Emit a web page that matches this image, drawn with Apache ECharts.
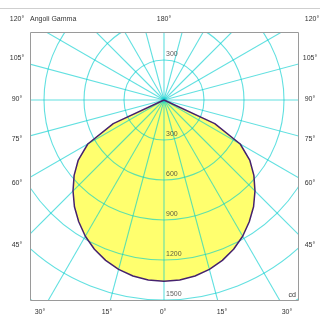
<!DOCTYPE html>
<html>
<head>
<meta charset="utf-8">
<script src="https://cdn.jsdelivr.net/npm/echarts@6/dist/echarts.min.js"></script>
<style>
html,body{margin:0;padding:0;background:#fff;}
#chart{width:320px;height:322px;}
</style>
</head>
<body>
<div id="chart"></div>
<script>
// Gamma angles (deg, from the downward vertical) and luminous intensity (cd), symmetric curve
const gammaAngles = [0, 5, 10, 15, 20, 25, 30, 35, 40, 45, 50, 55, 60, 65, 70, 75, 80, 85, 90];
const intensity   = [1360, 1355, 1340, 1315, 1280, 1235, 1180, 1115, 1045, 965, 880, 785, 660, 420, 0, 0, 0, 0, 0];

// Polar grid: rings (cd) and spokes (deg)
const ringValues = [300, 600, 900, 1200, 1500, 1800];
const spokeAngles = [-180, -165, -150, -135, -120, -105, -90, -75, -60, -45, -30, -15,
                     0, 15, 30, 45, 60, 75, 90, 105, 120, 135, 150, 165];
const gridOuter = 1800;

// Radial ring tick labels (cd)
const ringLabelsDown = [300, 600, 900, 1200, 1500];
const ringLabelsUp = [300];

// Angle tick labels around the frame
const leftLabels = ['105°', '90°', '75°', '60°', '45°'];
const rightLabels = ['105°', '90°', '75°', '60°', '45°'];
const bottomLabels = ['30°', '15°', '0°', '15°', '30°'];
const topLabels = ['120°', '180°', '120°'];
const titleText = 'Angoli Gamma';
const unitText = 'cd';

const curve = [];
for (let i = gammaAngles.length - 1; i >= 1; i--) curve.push([intensity[i], -gammaAngles[i]]);
for (let i = 0; i < gammaAngles.length; i++) curve.push([intensity[i], gammaAngles[i]]);

const ringData = ringLabelsDown.map(v => [v, 0]).concat(ringLabelsUp.map(v => [v, 180]));

const FONT = 'Liberation Sans, Arial, sans-serif';
const TXT = '#333';
const gridColor = 'rgba(0,205,205,0.62)';

function txt(x, y, s, align) {
  return { type: 'text', z: 110, x: x, y: y,
    style: { text: s, fill: TXT, font: '7px ' + FONT, align: align || 'center', verticalAlign: 'middle' } };
}

const leftY = [58, 99, 139, 183, 245];
const bottomX = [40, 107, 163, 222, 287];

const graphics = [
  { type: 'rect', z: 100, shape: { x: 0, y: 0, width: 320, height: 32 }, style: { fill: '#fff' } },
  { type: 'rect', z: 100, shape: { x: 0, y: 300.5, width: 320, height: 30 }, style: { fill: '#fff' } },
  { type: 'rect', z: 100, shape: { x: 0, y: 0, width: 30, height: 322 }, style: { fill: '#fff' } },
  { type: 'rect', z: 100, shape: { x: 298.5, y: 0, width: 30, height: 322 }, style: { fill: '#fff' } },
  { type: 'polyline', z: 105, shape: { points: [[30.5, 32.5], [298.5, 32.5], [298.5, 300.5], [30.5, 300.5], [30.5, 32.5]] }, style: { fill: null, stroke: '#9a9a9a', lineWidth: 1 } },
  { type: 'polyline', z: 105, shape: { points: [[0, 8.5], [320, 8.5]] }, style: { fill: null, stroke: '#cfcfcf', lineWidth: 1 } },
  txt(17, 19, topLabels[0]),
  txt(30, 19, titleText, 'left'),
  txt(164, 19, topLabels[1]),
  txt(312, 19, topLabels[2]),
  txt(296, 295, unitText, 'right')
];
leftLabels.forEach((s, i) => graphics.push(txt(17, leftY[i], s)));
rightLabels.forEach((s, i) => graphics.push(txt(310, leftY[i], s)));
bottomLabels.forEach((s, i) => graphics.push(txt(bottomX[i], 312, s)));

function ringItem(params, api) {
  const c = api.coord([0, 0]);
  const p = api.coord([api.value(0), 0]);
  const r = Math.hypot(p[0] - c[0], p[1] - c[1]);
  return { type: 'circle', z2: 2, shape: { cx: c[0], cy: c[1], r: r },
    style: { fill: null, stroke: gridColor, lineWidth: 1.1 } };
}
function spokeItem(params, api) {
  const c = api.coord([0, 0]);
  const p = api.coord([api.value(0), api.value(1)]);
  return { type: 'line', z2: 2, shape: { x1: c[0], y1: c[1], x2: p[0], y2: p[1] },
    style: { stroke: gridColor, lineWidth: 1.1 } };
}
function fillItem(params, api) {
  if (params.dataIndex !== 0) return null;
  const pts = curve.map(d => api.coord(d));
  return { type: 'polygon', z2: 0, shape: { points: pts }, style: { fill: '#ffff6e', stroke: null } };
}

const chart = echarts.init(document.getElementById('chart'), null, { renderer: 'canvas' });
chart.setOption({
  animation: false,
  backgroundColor: '#fff',
  polar: { center: [164, 100], radius: 240 },
  angleAxis: {
    type: 'value', min: -180, max: 180, interval: 15, startAngle: 90, clockwise: true,
    axisLine: { show: false }, axisTick: { show: false }, axisLabel: { show: false },
    splitLine: { show: false }
  },
  radiusAxis: {
    type: 'value', min: 0, max: 1800, interval: 300,
    axisLine: { show: false }, axisTick: { show: false }, axisLabel: { show: false },
    splitLine: { show: false }
  },
  series: [
    { type: 'custom', coordinateSystem: 'polar', silent: true, z: 1, clip: false,
      data: curve, renderItem: fillItem },
    { type: 'custom', coordinateSystem: 'polar', silent: true, z: 2, clip: false,
      data: ringValues.map(v => [v, 0]), renderItem: ringItem },
    { type: 'custom', coordinateSystem: 'polar', silent: true, z: 2, clip: false,
      data: spokeAngles.map(a => [gridOuter, a]), renderItem: spokeItem },
    { type: 'line', coordinateSystem: 'polar', data: curve, symbol: 'none', silent: true, z: 6,
      lineStyle: { color: '#45226e', width: 1.5 } },
    { type: 'scatter', coordinateSystem: 'polar', data: ringData, symbolSize: 0, silent: true, z: 7,
      label: { show: true, position: [2, -6], align: 'left', verticalAlign: 'middle',
        formatter: p => String(p.value[0]), fontSize: 7, fontFamily: FONT, color: TXT } }
  ],
  graphic: { elements: graphics }
});
</script>
</body>
</html>
